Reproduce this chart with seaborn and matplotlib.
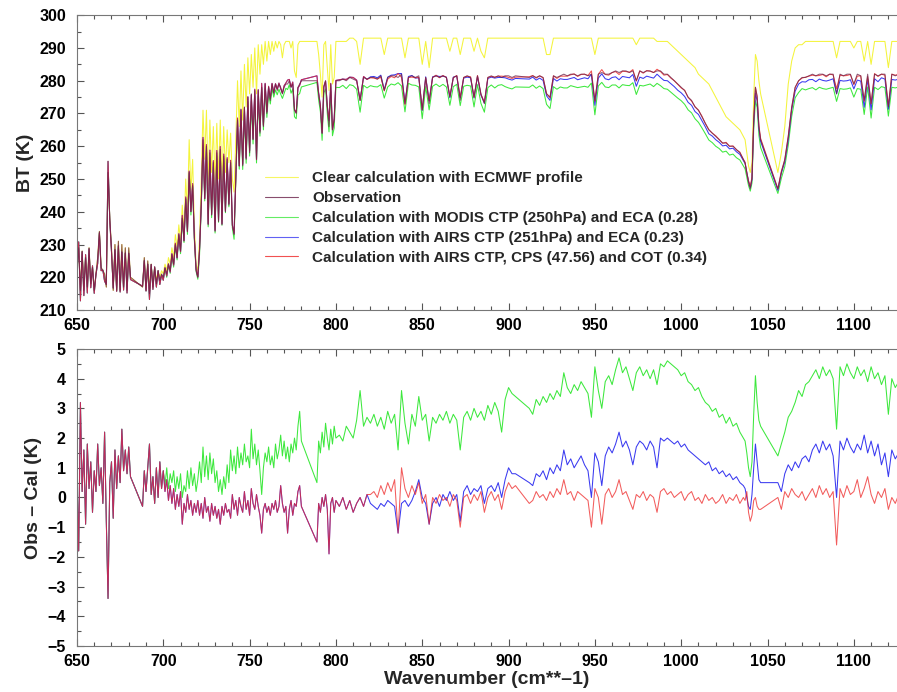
import numpy as np
import pandas as pd
import seaborn as sns
import matplotlib.pyplot as plt
from matplotlib.lines import Line2D
from matplotlib.ticker import MultipleLocator

# AIRS channel blocks (first, last, spacing) in cm**-1; gaps between blocks = missing channels
CHANNEL_BLOCKS = [(650, 681, 1), (688, 780, 1), (789, 800, 1), (802, 904, 2),
                  (912, 1036, 2), (1037, 1046, 1), (1056, 1126, 2)]

# observed brightness temperature (K)
OBS_BT = [
    222, 229, 216, 228, 216, 226, 217, 229, 218, 223, 216, 221, 226, 234, 223, 222,
    221, 217, 252, 238, 229, 216, 230, 216, 231, 216, 230, 217, 229, 216, 229, 220,
    217, 226, 216, 225, 215, 224, 217, 223, 218, 222, 219, 221, 220,
    223, 221, 224, 222, 227, 224, 230, 226, 233, 228,
    238, 231, 244, 234, 252, 240, 248, 232, 222, 220,
    228, 242, 262, 244, 260, 236, 258, 239, 255, 234,
    258, 237, 259, 236, 257, 240, 256, 242, 255, 236,
    233, 250, 268, 254, 271, 254, 272, 256, 275, 258,
    276, 262, 277, 256, 277, 264, 278, 266, 279, 270,
    278, 274, 279, 276, 279, 277, 279, 278, 276, 278,
    279, 279, 280, 278, 279, 271, 270, 278, 279, 280,
    280, 276, 272, 264, 278, 280, 272, 266, 279, 265, 268, 280,
    280, 280.5, 280, 281, 280.5, 280, 274, 281, 280.5, 281,
    281, 280.5, 281.5, 277, 281, 281.5, 281.5, 281, 282, 273,
    281, 281.5, 281, 281.5, 271, 281, 273, 281, 281.5, 281,
    281.5, 281, 275, 281, 281.5, 274, 281, 281.5, 281, 275,
    281.5, 276, 273, 281, 281.5, 281, 281.5, 281, 281.5, 281.5,
    281, 281.5,
    281, 281.5, 281, 281.5, 281, 276, 275, 281.5, 281, 281.5,
    282, 281.5, 282, 282, 281.5, 282, 282, 281.5, 282, 274,
    282, 282.5, 282, 282, 282.5, 283, 282.5, 283, 283, 282.5,
    283, 280, 283, 282.5, 283, 283, 282.5, 283, 283, 282,
    282, 281, 280, 279, 278, 277, 275, 274, 272, 271,
    269, 267, 265, 264, 263, 262, 261, 261, 260, 260,
    259, 258, 256,
    255, 252, 249, 247, 250, 268, 278, 275, 266, 262,
    247, 252, 256, 263, 272, 278, 280, 281, 281, 281.5,
    282, 281.5, 282, 282, 281.5, 282, 282, 276, 282, 281.5,
    282, 282, 279, 282, 281.5, 274, 282, 273, 282, 281.5,
    282, 282, 272, 282, 281.5, 282,
]

# clear-sky calculation with ECMWF profile (K)
CLEAR_BT = [
    222, 229, 216, 228, 217, 226, 217, 229, 218, 223, 216, 221, 226, 234, 223, 222,
    221, 217, 252, 238, 229, 216, 230, 216, 231, 216, 230, 217, 229, 216, 229, 220,
    217, 226, 216, 225, 216, 224, 217, 223, 219, 222, 220, 222, 221,
    224, 222, 226, 224, 229, 226, 233, 229, 236, 231,
    242, 234, 250, 240, 262, 246, 256, 236, 224, 222,
    232, 250, 271, 256, 271, 248, 268, 252, 266, 248,
    267, 250, 268, 249, 266, 252, 265, 255, 264, 250,
    246, 262, 280, 266, 283, 268, 285, 272, 287, 276,
    288, 278, 290, 276, 291, 282, 291, 285, 292, 286,
    292, 288, 292, 289, 292, 290, 292, 291, 287, 291,
    292, 292, 292, 290, 292, 283, 281, 291, 292, 292,
    292, 288, 282, 275, 291, 292, 284, 277, 291, 279, 281, 292,
    292, 292, 292, 293, 293, 292, 285, 293, 293, 293,
    293, 293, 293, 288, 293, 293, 293, 293, 293, 287,
    293, 293, 293, 293, 285, 292, 284, 293, 293, 293,
    293, 293, 289, 293, 293, 288, 293, 293, 293, 289,
    293, 289, 287, 293, 293, 293, 293, 293, 293, 293,
    293, 293,
    293, 293, 293, 293, 293, 288, 288, 293, 293, 293,
    293, 293, 293, 293, 293, 293, 293, 293, 293, 288,
    293, 293, 293, 293, 293, 293, 293, 293, 293, 293,
    293, 291, 293, 293, 293, 293, 293, 292, 292, 292,
    292, 291, 290, 289, 288, 287, 286, 285, 284, 282,
    281, 280, 279, 277, 275, 273, 271, 269, 268, 267,
    266, 265, 263,
    262, 258, 254, 252, 255, 275, 288, 286, 280, 276,
    252, 258, 266, 279, 286, 290, 291, 291, 292, 292,
    292, 292, 292, 292, 292, 292, 292, 287, 292, 292,
    292, 292, 290, 292, 292, 286, 292, 285, 292, 292,
    292, 292, 284, 292, 292, 292,
]

# Obs - Cal (K): 650-700 identical for the three calculations
DIFF_COMMON = [
    0.8, -1.8, 3.2, 0.2, 1.6, -0.9, 1.8, 0.3, 1.2, -0.5, 0.9, 0.2, 1.8, 0.4, 1.0, -0.2,
    2.2, -0.8, -3.4, 0.5, 1.2, -0.7, 1.6, 0.3, 1.4, 0.5, 2.3, 0.9, 1.6, 0.8, 1.7, 0.7,
    -0.3, 0.9, 0.2, 1.0, 1.8, 0.1, 0.7, -0.2, 1.0, 0.0, 1.2, 0.3, 0.9,
]

# 701-800: both AIRS-CTP calculations give the same differences
DIFF_AIRS_SHARED = [
    0.2, 0.6, -0.1, 0.4, -0.2, 0.3, -0.4, 0.1, -0.3, 0.2,
    -0.9, -0.2, -0.5, 0.1, -0.4, -0.1, -0.6, -0.2, -0.5, -0.1,
    -0.6, -0.2, -0.7, 0.0, -0.5, -0.3, -0.8, -0.2, -0.6, -0.3,
    -0.7, -0.4, -0.9, -0.3, -0.6, -0.2, -0.5, -0.4, -0.7, 0.1,
    -0.4, -0.1, -0.6, 0.0, -0.3, -0.5, 0.2, -0.4, -0.1, -0.6,
    0.3, -0.2, -0.4, 0.1, -0.3, -0.6, -1.2, -0.4, -0.2, -0.5,
    -0.3, -0.6, -0.2, -0.4, -0.1, -0.5, -0.3, 0.4, -0.2, -0.5,
    -0.3, -1.2, -0.4, -0.1, -0.6, -0.2, -0.3, 0.2, 0.4, -0.3,
    -1.5, -0.2, -0.5, 0.0, -0.3, 0.1, -0.4, -1.9, -0.2, 0.0, -0.5, -0.1,
]

# MODIS CTP (250hPa) and ECA (0.28), from 701 on
DIFF_MODIS_REST = [
    0.4, 1.0, 0.3, 0.8, 0.5, 0.9, 0.2, 0.7, 0.3, 0.8,
    0.0, 0.4, 0.2, 0.9, 0.3, 1.0, 0.4, 0.8, 0.2, 0.6,
    1.2, 0.5, 1.7, 0.7, 1.4, 0.6, 1.5, 0.8, 1.3, 0.5,
    0.9, 0.2, 0.6, 0.1, 0.7, 0.3, 1.1, 0.5, 1.6, 0.9,
    1.4, 0.8, 1.7, 1.0, 1.5, 1.1, 1.8, 1.2, 1.4, 1.0,
    2.3, 1.3, 1.8, 1.1, 1.6, 0.9, 0.1, 1.0, 1.5, 1.2,
    1.7, 1.1, 1.4, 1.0, 1.8, 1.3, 1.6, 2.1, 1.4, 1.9,
    1.3, 1.7, 1.2, 1.8, 1.5, 2.0, 1.6, 2.4, 2.9, 1.9,
    0.5, 1.9, 1.5, 2.2, 1.7, 2.5, 2.0, 1.6, 2.3, 1.8, 2.4, 2.0,
    2.1, 1.9, 2.4, 2.2, 2.0, 2.6, 3.6, 2.4, 2.7, 2.5,
    2.8, 2.4, 2.7, 2.3, 2.9, 2.5, 2.8, 1.6, 3.6, 2.5,
    1.8, 2.8, 2.4, 3.4, 2.6, 2.8, 1.9, 2.7, 2.5, 2.8,
    2.6, 2.9, 2.5, 2.8, 2.6, 1.6, 2.7, 2.9, 2.6, 3.0,
    2.7, 2.9, 2.6, 3.1, 2.8, 3.2, 2.9, 2.2, 3.3, 3.7,
    3.5, 3.4,
    3.0, 2.8, 3.3, 3.1, 3.4, 3.2, 3.5, 3.3, 3.6, 3.4,
    4.2, 3.7, 3.5, 3.8, 3.6, 3.9, 3.7, 3.5, 2.7, 4.4,
    3.6, 3.0, 3.9, 4.1, 3.8, 4.3, 4.7, 4.2, 4.4, 4.0,
    3.6, 4.2, 4.4, 4.1, 4.3, 4.0, 4.3, 3.8, 4.5, 4.4,
    4.6, 4.5, 4.4, 4.3, 4.1, 4.2, 3.9, 3.8, 3.6, 3.7,
    3.4, 3.2, 3.1, 2.9, 3.0, 2.7, 2.8, 2.5, 2.7, 2.4,
    2.5, 2.2, 2.0,
    1.9, 1.5, 1.0, 0.7, 1.2, 2.8, 4.1, 3.2, 2.6, 2.4,
    1.4, 1.8, 2.2, 2.7, 2.9, 3.2, 3.6, 3.4, 3.8, 3.9,
    4.1, 4.3, 4.0, 4.4, 4.1, 4.3, 4.0, 2.3, 4.4, 4.1,
    4.5, 4.2, 4.0, 4.4, 4.1, 4.3, 3.9, 4.4, 4.0, 4.2,
    3.8, 4.1, 2.8, 4.0, 3.7, 3.9,
]

# AIRS CTP (251hPa) and ECA (0.23), from 802 on
DIFF_AIRS_REST = [
    -0.3, 0.0, -0.4, -0.1, -0.5, -0.2, 0.0, -0.3, 0.1, -0.2,
    -0.3, -0.4, -0.2, -0.3, -0.1, -0.2, -0.3, -1.2, -0.2, -0.1,
    -0.3, -0.1, 0.2, 0.6, 0.0, -0.2, -0.9, -0.2, 0.0, -0.3,
    0.1, -0.1, 0.2, -0.1, 0.1, -0.8, 0.2, 0.4, 0.1, 0.3,
    0.2, 0.4, -0.2, 0.3, 0.4, 0.2, 0.5, 0.0, 0.6, 1.0,
    0.8, 0.8,
    0.5, 0.4, 0.8, 0.7, 0.9, 0.6, 1.0, 0.8, 1.1, 0.9,
    1.6, 1.1, 1.3, 1.0, 1.2, 1.4, 1.1, 0.9, 0.0, 1.5,
    1.2, 0.4, 1.4, 1.7, 1.5, 1.8, 2.2, 1.7, 1.9, 1.6,
    1.1, 1.7, 1.9, 1.8, 1.6, 1.9, 1.7, 1.0, 2.0, 1.9,
    2.0, 1.9, 1.8, 1.9, 1.7, 1.8, 1.6, 1.5, 1.4, 1.3,
    1.2, 1.1, 1.2, 0.9, 1.0, 0.8, 0.9, 0.7, 0.8, 0.6,
    0.7, 0.5, 0.4,
    0.3, 0.0, -0.3, -0.4, 0.1, 1.0, 1.8, 1.2, 0.6, 0.5,
    0.5, 0.2, 0.8, 1.1, 0.9, 1.2, 1.0, 1.3, 1.4, 1.2,
    1.6, 1.8, 1.5, 1.9, 1.6, 1.8, 1.4, 0.0, 1.9, 1.6,
    2.0, 1.7, 1.5, 1.8, 1.6, 2.1, 1.5, 1.9, 1.4, 1.8,
    1.1, 1.5, 0.7, 1.6, 1.3, 1.5,
]

# AIRS CTP, CPS (47.56) and COT (0.34), from 802 on
DIFF_COT_REST = [
    -0.3, 0.0, -0.4, -0.1, -0.5, -0.2, 0.0, -0.3, 0.1, 0.1,
    0.2, 0.0, 0.4, 0.1, 0.5, 0.2, 0.6, -1.2, 1.0, 0.3,
    0.0, 0.4, 0.1, 0.5, -0.2, 0.1, -0.9, 0.0, -0.2, 0.1,
    -0.1, 0.0, -0.3, 0.1, -0.1, -1.0, 0.0, 0.1, -0.2, 0.1,
    -0.1, 0.2, -0.5, 0.0, 0.2, -0.1, 0.1, -0.4, 0.2, 0.5,
    0.3, 0.4,
    -0.2, -0.1, 0.2, 0.0, 0.1, -0.1, 0.2, 0.0, 0.3, 0.1,
    0.6, 0.1, 0.2, -0.1, 0.2, 0.1, 0.0, -0.1, -1.0, 0.3,
    0.0, -0.9, 0.1, 0.3, 0.0, 0.2, 0.6, 0.1, 0.2, -0.1,
    -0.4, 0.1, 0.0, 0.2, -0.1, 0.1, 0.0, -0.5, 0.2, 0.3,
    0.1, 0.2, 0.0, 0.1, 0.2, -0.1, 0.1, 0.2, -0.1, 0.0,
    -0.2, 0.1, -0.1, 0.0, -0.2, -0.1, 0.1, -0.2, 0.0, -0.1,
    0.1, -0.2, 0.0,
    -0.1, 0.2, -0.5, -0.8, -0.6, -0.1, 0.0, -0.3, -0.4, -0.4,
    0.0, -0.4, 0.2, 0.0, 0.3, 0.1, 0.0, 0.2, -0.1, 0.1,
    0.3, 0.0, 0.4, 0.1, 0.3, 0.0, 0.2, -1.6, 0.3, 0.0,
    0.4, 0.1, 0.2, 0.6, 0.0, 0.3, 0.7, 0.1, -0.2, 0.2,
    0.0, 0.3, -0.4, 0.0, -0.2, 0.1,
]

LABELS = {
    "clear": "Clear calculation with ECMWF profile",
    "obs": "Observation",
    "modis": "Calculation with MODIS CTP (250hPa) and ECA (0.28)",
    "airs": "Calculation with AIRS CTP (251hPa) and ECA (0.23)",
    "cot": "Calculation with AIRS CTP, CPS (47.56) and COT (0.34)",
}
COLORS = {"clear": "#f4f43c", "obs": "#6a2048", "modis": "#3de83d",
          "airs": "#3a3af0", "cot": "#ee2626"}
LEGEND_ORDER = ["clear", "obs", "modis", "airs", "cot"]


def build_table():
    wn = np.concatenate([np.arange(a, b + 1, s) for a, b, s in CHANNEL_BLOCKS])
    d_modis = np.array(DIFF_COMMON + DIFF_MODIS_REST)
    d_airs = np.array(DIFF_COMMON + DIFF_AIRS_SHARED + DIFF_AIRS_REST)
    d_cot = np.array(DIFF_COMMON + DIFF_AIRS_SHARED + DIFF_COT_REST)
    obs = np.array(OBS_BT, dtype=float)
    for arr in (obs, CLEAR_BT, d_modis, d_airs, d_cot):
        assert len(arr) == len(wn), (len(arr), len(wn))
    df = pd.DataFrame({
        "wn": wn, "obs": obs, "clear": CLEAR_BT,
        "modis": obs - d_modis, "airs": obs - d_airs, "cot": obs - d_cot,
        "d_modis": d_modis, "d_airs": d_airs, "d_cot": d_cot,
    })
    return df


def style_axis(ax, ylim, ymajor, yminor):
    ax.set_xlim(650, 1125)
    ax.set_ylim(*ylim)
    ax.xaxis.set_major_locator(MultipleLocator(50))
    ax.xaxis.set_minor_locator(MultipleLocator(10))
    ax.yaxis.set_major_locator(MultipleLocator(ymajor))
    ax.yaxis.set_minor_locator(MultipleLocator(yminor))
    ax.tick_params(which="both", direction="in", top=True, right=False,
                   colors="#555555", labelcolor="black", labelsize=11.5, width=0.8)
    ax.tick_params(which="major", length=5)
    ax.tick_params(which="minor", length=3)
    ax.tick_params(axis="x", pad=6)
    ax.tick_params(axis="y", pad=8)
    for side in ("left", "top", "bottom"):
        ax.spines[side].set_color("#777777")
        ax.spines[side].set_linewidth(0.8)
    ax.spines["right"].set_visible(False)
    for lab in ax.get_xticklabels() + ax.get_yticklabels():
        lab.set_fontweight("bold")


def main():
    df = build_table()

    sns.set_theme(style="ticks")
    plt.rcParams["font.family"] = ["Liberation Sans", "DejaVu Sans"]
    plt.rcParams["axes.unicode_minus"] = True

    fig = plt.figure(figsize=(8.97, 6.92), dpi=100)
    ax1 = fig.add_axes([0.0858, 0.552, 0.9142, 0.426])
    ax2 = fig.add_axes([0.0858, 0.0665, 0.9142, 0.4292])

    lw = 0.75
    # top panel: brightness temperatures
    for key, alpha in [("clear", 1.0), ("modis", 1.0), ("airs", 1.0), ("cot", 0.8), ("obs", 0.75)]:
        sns.lineplot(data=df, x="wn", y=key, ax=ax1, color=COLORS[key], lw=lw,
                     alpha=alpha, sort=False, legend=False)

    # bottom panel: Obs - Cal
    for key, alpha in [("modis", 1.0), ("airs", 1.0), ("cot", 0.75)]:
        sns.lineplot(data=df, x="wn", y="d_" + key, ax=ax2, color=COLORS[key], lw=lw,
                     alpha=alpha, sort=False, legend=False)

    style_axis(ax1, (210, 300), 10, 5)
    style_axis(ax2, (-5, 5), 1, 0.5)

    ax1.set_xlabel("")
    ax1.set_ylabel("BT (K)", fontsize=14, fontweight="bold", labelpad=4)
    ax2.set_ylabel("Obs \u2013 Cal (K)", fontsize=14, fontweight="bold", labelpad=4)
    ax2.set_xlabel("Wavenumber (cm**\u20131)", fontsize=14, fontweight="bold", labelpad=1)

    handles = [Line2D([], [], color=COLORS[k], lw=0.8, alpha=0.8) for k in LEGEND_ORDER]
    ax1.legend(handles, [LABELS[k] for k in LEGEND_ORDER],
               loc="upper left", bbox_to_anchor=(0.229, 0.47), frameon=False,
               prop={"weight": "bold", "size": 11}, handlelength=2.2,
               handletextpad=0.9, labelspacing=0.38, borderpad=0, borderaxespad=0)

    fig.savefig("out.png", dpi=100)
    plt.close(fig)


if __name__ == "__main__":
    main()
